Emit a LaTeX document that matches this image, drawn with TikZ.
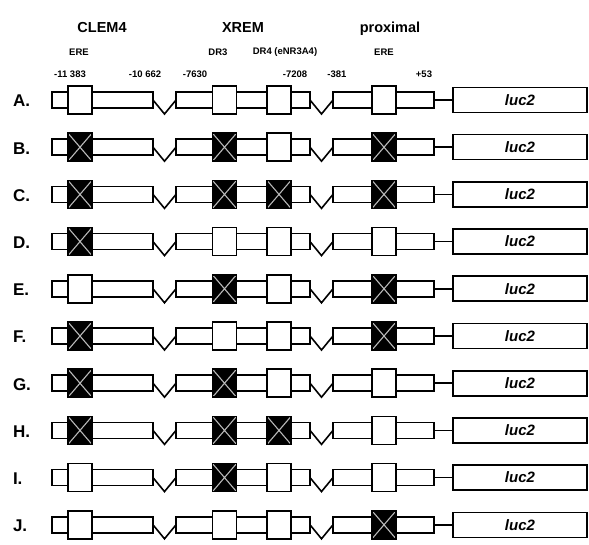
\documentclass[tikz,border=0pt]{standalone}
\usepackage{fontspec}
\setmainfont{Liberation Sans}
\tikzset{
  every node/.style={inner sep=0pt, outer sep=0pt},
  bar/.style={draw, fill=white, line width=1.6pt, minimum height=16pt, anchor=west},
  site/.style={draw, fill=white, line width=1.6pt, minimum width=24pt, minimum height=28pt},
  xline/.style={draw=gray!55, line width=1.1pt},
  vline/.style={line width=1.6pt, line join=miter},
  lucbox/.style={draw, fill=white, line width=1.6pt, minimum width=134pt, minimum height=25pt, anchor=west, font=\fontsize{15}{15}\selectfont\bfseries\itshape},
  rowlab/.style={anchor=west, font=\fontsize{17}{17}\selectfont\bfseries},
  head/.style={font=\fontsize{14.5}{14.5}\selectfont\bfseries},
  small/.style={font=\fontsize{9.5}{9.5}\selectfont\bfseries},
}
\newcommand\drawsite[4]{%
  \ifnum#2=1
    \node[site, fill=black] (#1) at (#3,#4) {};
    \draw[xline] (#1.north west) -- (#1.south east) (#1.north east) -- (#1.south west);
    \draw[line width=1.6pt] (#1.north west) rectangle (#1.south east);
  \else
    \node[site] (#1) at (#3,#4) {};
  \fi}
\begin{document}
\begin{tikzpicture}[x=1pt, y=-1pt]
\useasboundingbox (0,0) rectangle (589,545);
% headers
\node[head] (hclem) at (102,28) {CLEM4};
\node[head] (hxrem) at (243,28) {XREM};
\node[head, anchor=base] (hprox) at (390,33) {proximal};
\node[small] (lere1) at (79,52) {ERE};
\node[small] (ldr3) at (218,52) {DR3};
\node[small] (ldr4) at (285,52) {DR4 (eNR3A4)};
\node[small] (lere2) at (384,52) {ERE};
\node[small] (n1) at (70,74) {-11 383};
\node[small] (n2) at (145,74) {-10 662};
\node[small] (n3) at (195,74) {-7630};
\node[small] (n4) at (295,74) {-7208};
\node[small] (n5) at (337,74) {-381};
\node[small] (n6) at (424,74) {+53};
\foreach \lab/\a/\b/\c/\d [count=\i from 0] in
  {A/0/0/0/0, B/1/1/0/1, C/1/1/1/1, D/1/0/0/0, E/0/1/0/1,
   F/1/0/0/1, G/1/1/0/0, H/1/1/1/0, I/0/1/0/0, J/0/0/0/1}{
  \pgfmathsetmacro\yy{100+47.2*\i}
  \node[rowlab] (lab\i) at (13,\yy+1) {\lab.};
  \node[bar, minimum width=101pt] (bara\i) at (52,\yy) {};
  \node[bar, minimum width=134pt] (barb\i) at (176,\yy) {};
  \node[bar, minimum width=101pt] (barc\i) at (333,\yy) {};
  \draw[vline] (bara\i.east) -- ++(11.5,14) -- (barb\i.west);
  \draw[vline] (barb\i.east) -- ++(11.5,14) -- (barc\i.west);
  \drawsite{ea\i}{\a}{80}{\yy}
  \drawsite{dra\i}{\b}{224.5}{\yy}
  \drawsite{drb\i}{\c}{279}{\yy}
  \drawsite{eb\i}{\d}{384}{\yy}
  \node[lucbox] (luc\i) at (453,\yy) {luc2};
  \draw[line width=1.6pt] (barc\i.east) -- (luc\i.west);
}
\end{tikzpicture}
\end{document}
